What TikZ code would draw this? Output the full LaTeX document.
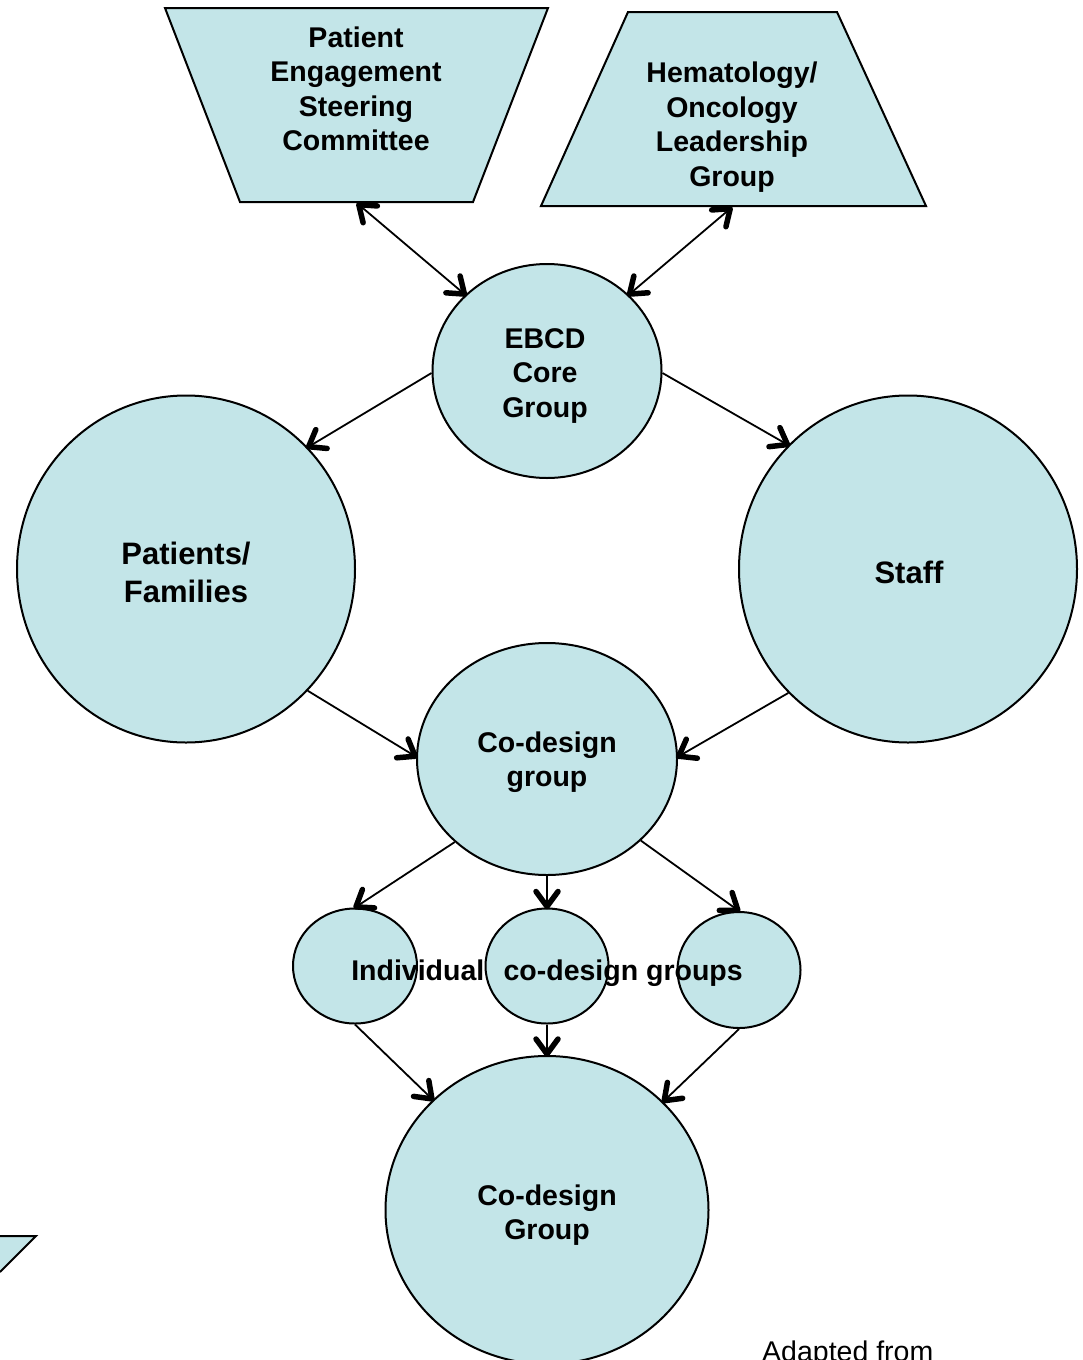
\documentclass[tikz,border=0pt]{standalone}
\usepackage{fontspec}
\setmainfont{Liberation Sans}
\usetikzlibrary{shapes.geometric,decorations.markings}
\definecolor{fillc}{RGB}{195,229,232}
\tikzset{
  box/.style={draw=black, fill=fillc, line width=2pt, line join=miter},
  bub/.style={ellipse, draw=black, fill=fillc, line width=2pt, inner sep=0pt, align=center},
  txt/.style={align=center, inner sep=0pt, font=\bfseries\fontsize{28.5}{34.5}\selectfont},
  bigtxt/.style={txt, font=\bfseries\fontsize{31}{38}\selectfont},
  headend/.style={decoration={markings, mark=at position 1 with {\draw[line width=5.5pt, line cap=round, line join=round] (-16pt,11pt) -- (-1pt,0pt) -- (-16pt,-11pt);}}},
  headstart/.style={decoration={markings, mark=at position 0 with {\draw[line width=5.5pt, line cap=round, line join=round] (16pt,11pt) -- (1pt,0pt) -- (16pt,-11pt);}}},
  arr/.style={line width=1.8pt, postaction={headend, decorate}},
  darr/.style={line width=1.8pt, postaction={headend, decorate}, postaction={headstart, decorate}}
}
\begin{document}
\begin{tikzpicture}[x=1pt,y=-1pt]
\useasboundingbox (0,0) rectangle (1082,1360);
% top trapezoids
\draw[box] (165,8) -- (548,8) -- (473,202) -- (240,202) -- cycle;
\node[txt] (pesc) at (356,89) {Patient\\Engagement\\Steering\\Committee};
\coordinate (pescb) at (358,204);
\draw[box] (628,12) -- (837,12) -- (926,206) -- (541,206) -- cycle;
\node[txt] (heme) at (732,127) {Hematology/\\Oncology\\Leadership\\Group};
\coordinate (hemeb) at (731,208);
% partial shape bottom left
\fill[fillc] (0,1236) -- (36,1236) -- (0,1272) -- cycle;
\draw[line width=2pt] (0,1236) -- (36,1236) -- (0,1272);
% circles
\node[bub, minimum width=229pt, minimum height=214pt] (ebcd) at (547,371) {};
\node[txt] (ebcdt) at (545,376) {EBCD\\Core\\Group};
\node[bub, minimum width=338pt, minimum height=347pt] (pat) at (186,569) {};
\node[bigtxt] (patt) at (186,572) {Patients/\\Families};
\node[bub, minimum width=338pt, minimum height=347pt] (staff) at (908,569) {};
\node[bigtxt] (stafft) at (909,572) {Staff};
\node[bub, minimum width=260pt, minimum height=232pt] (cd) at (547,759) {};
\node[txt] (cdt) at (547,762) {Co-design\\group};
\node[bub, minimum width=124pt, minimum height=115pt] (s1) at (355,966) {};
\node[bub, minimum width=123pt, minimum height=115pt] (s2) at (547,966) {};
\node[bub, minimum width=123pt, minimum height=116pt] (s3) at (739,970) {};
\node[bub, minimum width=323pt, minimum height=308pt] (cdg) at (547,1210) {};
\node[txt] (cdgt) at (547,1215) {Co-design\\Group};
\node[txt, anchor=base] (indiv) at (547,980) {Individual\hspace{0.4em} co-design groups};
\node[inner sep=0pt, anchor=base west, font=\fontsize{28.5}{34}\selectfont] (adapt) at (762,1361) {Adapted from};
% connectors
\draw[darr] (pescb) -- (ebcd.137);
\draw[darr] (hemeb) -- (ebcd.43.5);
\draw[arr] (ebcd.181) -- (pat.45.5);
\draw[arr] (ebcd.359) -- (staff.134.5);
\draw[arr] (pat.-45.7) -- (cd.179);
\draw[arr] (staff.226.2) -- (cd.1);
\draw[arr] (cd.222) -- (s1.north);
\draw[arr] (cd.south) -- (s2.north);
\draw[arr] (cd.-41.7) -- (s3.north);
\draw[arr] (s1.south) -- (cdg.136);
\draw[arr] (s2.south) -- (cdg.north);
\draw[arr] (s3.south) -- (cdg.43.5);
\end{tikzpicture}
\end{document}
